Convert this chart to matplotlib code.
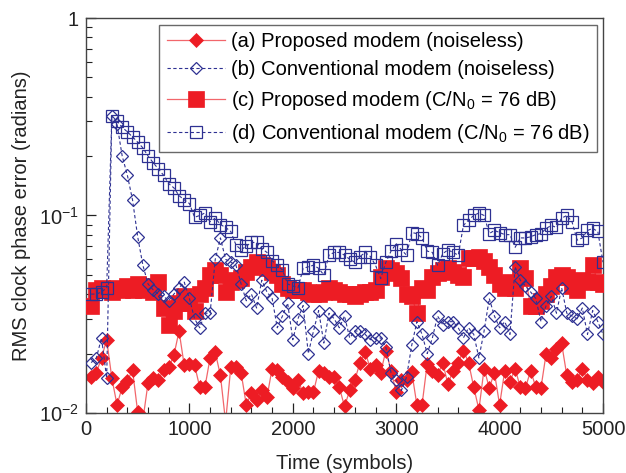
import numpy as np
import matplotlib
matplotlib.use("Agg")
import matplotlib.pyplot as plt
from matplotlib.ticker import FixedLocator, LogLocator, MultipleLocator, FuncFormatter, NullFormatter

plt.rcParams['font.family'] = ['Liberation Sans', 'DejaVu Sans']
plt.rcParams['mathtext.fontset'] = 'custom'
plt.rcParams['mathtext.rm'] = 'Liberation Sans'
plt.rcParams['mathtext.it'] = 'Liberation Sans:italic'

# time axis (symbols)
time = np.arange(50, 5001, 50)

# (a) Proposed modem (noiseless)
prop_noiseless = [
    0.0152, 0.016, 0.019, 0.0235, 0.015, 0.011, 0.0135, 0.0145, 0.0165, 0.0101,
    0.0092, 0.0142, 0.015, 0.0147, 0.0166, 0.017, 0.0196, 0.026, 0.0174, 0.0178,
    0.0175, 0.0135, 0.0135, 0.019, 0.0203, 0.0155, 0.009, 0.017, 0.017, 0.016,
    0.011, 0.0126, 0.0117, 0.013, 0.012, 0.0168, 0.0166, 0.0152, 0.0144, 0.0134,
    0.0147, 0.0126, 0.0128, 0.0128, 0.0164, 0.016, 0.0152, 0.0152, 0.0135, 0.0108,
    0.013, 0.0147, 0.018, 0.0203, 0.0168, 0.0174, 0.016, 0.0207, 0.0164, 0.0127,
    0.0147, 0.0147, 0.0162, 0.011, 0.011, 0.0178, 0.0164, 0.0155, 0.018, 0.014,
    0.0164, 0.018, 0.0207, 0.018, 0.0135, 0.0104, 0.0168, 0.0134, 0.016, 0.011,
    0.0164, 0.0144, 0.0168, 0.0135, 0.0134, 0.0164, 0.0135, 0.0134, 0.020, 0.019,
    0.021, 0.0225, 0.0155, 0.0144, 0.0147, 0.0168, 0.0147, 0.0142, 0.0152, 0.0144,
]

# (b) Conventional modem (noiseless)
conv_noiseless = [
    0.018, 0.019, 0.024, 0.015, 0.32, 0.29, 0.20, 0.16, 0.12, 0.078,
    0.056, 0.045, 0.042, 0.040, 0.039, 0.037, 0.040, 0.043, 0.046, 0.038,
    0.030, 0.027, 0.032, 0.032, 0.060, 0.077, 0.060, 0.058, 0.056, 0.045,
    0.037, 0.040, 0.034, 0.047, 0.041, 0.038, 0.027, 0.031, 0.036, 0.0235,
    0.030, 0.035, 0.020, 0.026, 0.033, 0.0226, 0.032, 0.030, 0.027, 0.031,
    0.024, 0.026, 0.026, 0.025, 0.0235, 0.024, 0.024, 0.0215, 0.016, 0.0147,
    0.013, 0.0152, 0.022, 0.029, 0.025, 0.020, 0.024, 0.031, 0.028, 0.029,
    0.029, 0.027, 0.024, 0.027, 0.025, 0.019, 0.026, 0.038, 0.031, 0.027,
    0.029, 0.025, 0.055, 0.047, 0.044, 0.041, 0.038, 0.029, 0.035, 0.039,
    0.032, 0.043, 0.032, 0.031, 0.030, 0.034, 0.025, 0.033, 0.029, 0.025,
]

# (c) Proposed modem (C/N0 = 76 dB)
prop_noisy = [
    0.035, 0.042, 0.043, 0.042, 0.041, 0.043, 0.042, 0.044, 0.042, 0.045,
    0.042, 0.044, 0.041, 0.046, 0.034, 0.028, 0.033, 0.036, 0.039, 0.036,
    0.033, 0.040, 0.043, 0.050, 0.053, 0.050, 0.041, 0.046, 0.047, 0.048,
    0.052, 0.055, 0.058, 0.056, 0.054, 0.052, 0.050, 0.045, 0.043, 0.042,
    0.042, 0.042, 0.041, 0.040, 0.040, 0.041, 0.043, 0.042, 0.041, 0.040,
    0.040, 0.039, 0.040, 0.041, 0.041, 0.042, 0.049, 0.054, 0.053, 0.051,
    0.048, 0.040, 0.039, 0.032, 0.043, 0.042, 0.049, 0.051, 0.053, 0.054,
    0.052, 0.050, 0.049, 0.061, 0.061, 0.062, 0.059, 0.055, 0.050, 0.045,
    0.043, 0.046, 0.043, 0.054, 0.048, 0.035, 0.035, 0.037, 0.040, 0.044,
    0.049, 0.050, 0.049, 0.044, 0.042, 0.047, 0.046, 0.056, 0.046, 0.045,
]

# (d) Conventional modem (C/N0 = 76 dB)
conv_noisy = [
    0.040, 0.040, 0.041, 0.043, 0.32, 0.30, 0.28, 0.265, 0.25, 0.235,
    0.22, 0.20, 0.185, 0.172, 0.16, 0.145, 0.138, 0.126, 0.12, 0.115,
    0.098, 0.10, 0.103, 0.093, 0.097, 0.09, 0.087, 0.083, 0.071, 0.067,
    0.070, 0.073, 0.073, 0.068, 0.065, 0.059, 0.056, 0.053, 0.045, 0.044,
    0.043, 0.054, 0.055, 0.056, 0.054, 0.050, 0.063, 0.065, 0.065, 0.063,
    0.060, 0.058, 0.062, 0.065, 0.062, 0.056, 0.048, 0.058, 0.066, 0.072,
    0.067, 0.063, 0.082, 0.081, 0.077, 0.066, 0.065, 0.056, 0.064, 0.067,
    0.065, 0.063, 0.089, 0.095, 0.10, 0.103, 0.10, 0.081, 0.084, 0.082,
    0.080, 0.080, 0.069, 0.077, 0.077, 0.078, 0.080, 0.081, 0.086, 0.089,
    0.087, 0.097, 0.10, 0.093, 0.075, 0.077, 0.084, 0.086, 0.083, 0.058,
]

labels = [
    "(a) Proposed modem (noiseless)",
    "(b) Conventional modem (noiseless)",
    r"(c) Proposed modem (C/N$_0$ = 76 dB)",
    r"(d) Conventional modem (C/N$_0$ = 76 dB)",
]

RED = '#ed1c24'
RED_LINE = '#f2666b'
BLUE = '#2e3192'

fig = plt.figure(figsize=(6.26, 4.73), dpi=100)
ax = fig.add_axes([86/626, 60/473, 517/626, 395/473])

la, = ax.plot(time, prop_noiseless, '-', color=RED_LINE, lw=0.9, marker='D',
              ms=7.2, mfc=RED, mec=RED, mew=0.5, zorder=2)
lc, = ax.plot(time, prop_noisy, '-', color=RED_LINE, lw=0.9, marker='s',
              ms=11, mfc=RED, mec=RED, mew=0.5, zorder=3)
lb, = ax.plot(time, conv_noiseless, '--', color=BLUE, lw=0.8, dashes=(3, 2.2),
              marker='D', ms=5.8, mfc='none', mec=BLUE, mew=0.9, zorder=4)
ld, = ax.plot(time, conv_noisy, '--', color=BLUE, lw=0.8, dashes=(3, 2.2),
              marker='s', ms=8.8, mfc='none', mec=BLUE, mew=0.9, zorder=5)

ax.set_yscale('log')
ax.set_xlim(0, 5000)
ax.set_ylim(0.01, 1)

ax.xaxis.set_major_locator(MultipleLocator(1000))
ax.xaxis.set_minor_locator(MultipleLocator(200))
ax.yaxis.set_major_locator(FixedLocator([0.01, 0.1, 1]))
ax.yaxis.set_minor_locator(LogLocator(base=10, subs=np.arange(2, 10)))
ax.yaxis.set_minor_formatter(NullFormatter())

def yfmt(v, pos):
    if abs(v - 1) < 1e-9:
        return '1'
    e = int(round(np.log10(v)))
    return r'$10^{%d}$' % e
ax.yaxis.set_major_formatter(FuncFormatter(yfmt))

ax.tick_params(which='both', direction='in', top=False, right=False,
               labelsize=14.5, colors='#222222')
ax.tick_params(which='major', length=7, width=0.9, pad=5)
ax.tick_params(which='minor', length=4, width=0.8)
for s in ax.spines.values():
    s.set_color('#444444')
    s.set_linewidth(1.0)

ax.set_xlabel('Time (symbols)', fontsize=14.5, color='#222222', labelpad=11)
ax.set_ylabel('RMS clock phase error (radians)', fontsize=14.5, color='#222222', labelpad=6)

leg = ax.legend([la, lb, lc, ld], labels, loc='upper right',
                bbox_to_anchor=(0.988, 0.983), fontsize=14.5, frameon=True,
                fancybox=False, edgecolor='#444444', handlelength=2.9,
                handletextpad=0.3, borderpad=0.35, labelspacing=0.48,
                borderaxespad=0.0)
leg.get_frame().set_linewidth(1.0)

fig.savefig('out.png', dpi=100)
